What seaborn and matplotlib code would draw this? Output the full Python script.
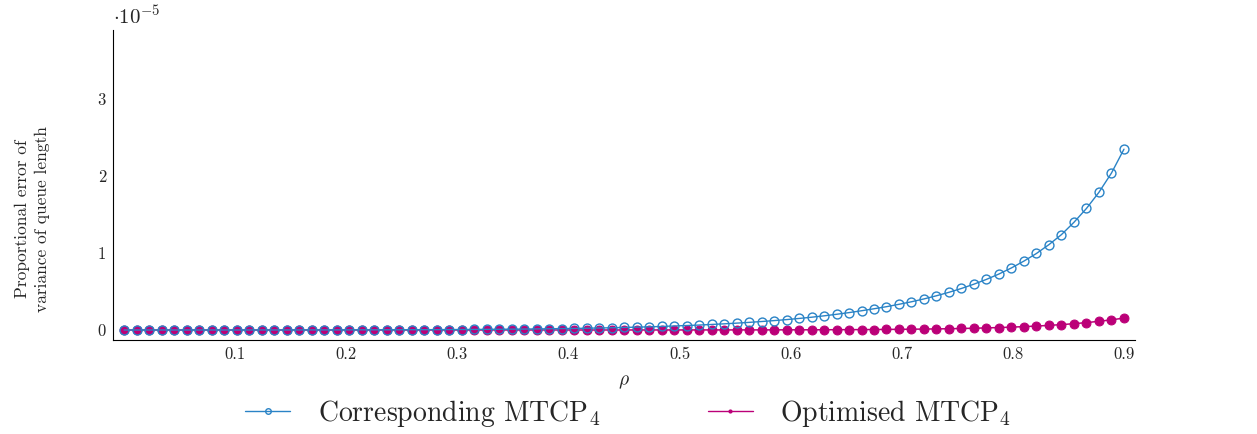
import numpy as np
import pandas as pd
import matplotlib
matplotlib.use("Agg")
import matplotlib.pyplot as plt
from matplotlib.lines import Line2D
import seaborn as sns

# rho grid: 81 evenly spaced samples on [0, 0.9]
rho = np.round(np.linspace(0.0, 0.9, 81), 5)

# Proportional error (in units of 1e-5)
corresponding = [
    0, 0, 0, 0, 0, 0, 0.0001, 0.0001, 0.0001, 0.0002,
    0.0002, 0.0003, 0.0004, 0.0005, 0.0007, 0.0008, 0.0010, 0.0012, 0.0015, 0.0018,
    0.0021, 0.0025, 0.0029, 0.0034, 0.0040, 0.0047, 0.0054, 0.0063, 0.0072, 0.0083,
    0.0095, 0.011, 0.012, 0.014, 0.016, 0.018, 0.020, 0.023, 0.026, 0.029,
    0.033, 0.037, 0.041, 0.046, 0.052, 0.058, 0.064, 0.072, 0.080, 0.089,
    0.099, 0.110, 0.122, 0.135, 0.150, 0.166, 0.184, 0.204, 0.226, 0.250,
    0.276, 0.303, 0.334, 0.367, 0.404, 0.445, 0.490, 0.540, 0.596, 0.658,
    0.728, 0.807, 0.896, 0.995, 1.11, 1.24, 1.40, 1.58, 1.79, 2.04,
    2.35,
]
optimised = [
    0, 0, 0, 0, 0, 0, 0, 0, 0, 0,
    0, 0, 0, 0, 0, 0, 0, 0, 0, 0,
    0, 0, 0, 0, 0, 0, 0, 0, 0, 0,
    0.0001, 0.0001, 0.0001, 0.0001, 0.0001, 0.0001, 0.0001, 0.0001, 0.0001, 0.0001,
    0.0002, 0.0002, 0.0003, 0.0003, 0.0004, 0.0005, 0.0006, 0.0007, 0.0008, 0.0009,
    0.0011, 0.0013, 0.0016, 0.0019, 0.0023, 0.0027, 0.0032, 0.0038, 0.0045, 0.0053,
    0.0063, 0.0074, 0.0087, 0.0102, 0.012, 0.0141, 0.0166, 0.0195, 0.023, 0.027,
    0.032, 0.037, 0.044, 0.051, 0.060, 0.070, 0.082, 0.096, 0.113, 0.132,
    0.155,
]

series_names = ["Corresponding MTCP$_4$", "Optimised MTCP$_4$"]
x_ticks = [0.1, 0.2, 0.3, 0.4, 0.5, 0.6, 0.7, 0.8, 0.9]
x_tick_labels = ["0.1", "0.2", "0.3", "0.4", "0.5", "0.6", "0.7", "0.8", "0.9"]
y_ticks = [0, 1, 2, 3]
y_tick_labels = ["0", "1", "2", "3"]

blue = "#2a83c6"
magenta = "#bb0078"

sns.set_theme(style="white")
plt.rcParams["font.family"] = ["cmr10", "DejaVu Serif"]
plt.rcParams["mathtext.fontset"] = "cm"
plt.rcParams["axes.formatter.use_mathtext"] = True

df = pd.DataFrame({
    "rho": np.concatenate([rho, rho]),
    "err": np.concatenate([corresponding, optimised]),
    "series": [series_names[0]] * len(rho) + [series_names[1]] * len(rho),
})

fig = plt.figure(figsize=(12.57, 4.34), dpi=100)
ax = fig.add_axes([0.0899, 0.2166, 0.8131, 0.7144])

sns.lineplot(data=df[df.series == series_names[1]], x="rho", y="err", ax=ax,
             color=magenta, lw=1.1, marker="o", markersize=6.4,
             markerfacecolor=magenta, markeredgecolor=magenta, legend=False,
             errorbar=None, zorder=2)
sns.lineplot(data=df[df.series == series_names[0]], x="rho", y="err", ax=ax,
             color=blue, lw=1.0, marker="o", markersize=6.4,
             markerfacecolor="none", markeredgecolor=blue, markeredgewidth=1.0,
             legend=False, errorbar=None, zorder=3)

ax.set_xlim(-0.01, 0.91)
ax.set_ylim(-0.13, 3.9)
ax.set_xticks(x_ticks)
ax.set_xticklabels(x_tick_labels)
ax.set_yticks(y_ticks)
ax.set_yticklabels(y_tick_labels)
ax.tick_params(axis="both", direction="in", length=5, width=0.6, color="#888888",
               labelsize=12, pad=5)
for s in ["top", "right"]:
    ax.spines[s].set_visible(False)
for s in ["left", "bottom"]:
    ax.spines[s].set_color("black")
    ax.spines[s].set_linewidth(0.8)

ax.set_xlabel(r"$\rho$", fontsize=14, labelpad=8)
ax.set_ylabel("Proportional error of\nvariance of queue length", fontsize=12.5,
              linespacing=1.35)
ax.yaxis.set_label_coords(-0.062, 0.39)
ax.text(0.0, 1.005, r"$\cdot 10^{-5}$", transform=ax.transAxes, fontsize=15,
        ha="left", va="bottom")

handles = [
    Line2D([], [], color=blue, lw=1.0, marker="o", markersize=4,
           markerfacecolor="none", markeredgecolor=blue),
    Line2D([], [], color=magenta, lw=1.0, marker="o", markersize=2,
           markerfacecolor=magenta, markeredgecolor=magenta),
]
fig.legend(handles, series_names, loc="center", bbox_to_anchor=(0.5, 0.048),
           ncol=2, frameon=False, fontsize=20, handlelength=1.6,
           columnspacing=3.9, handletextpad=1.0)

fig.savefig("out.png", dpi=100)
